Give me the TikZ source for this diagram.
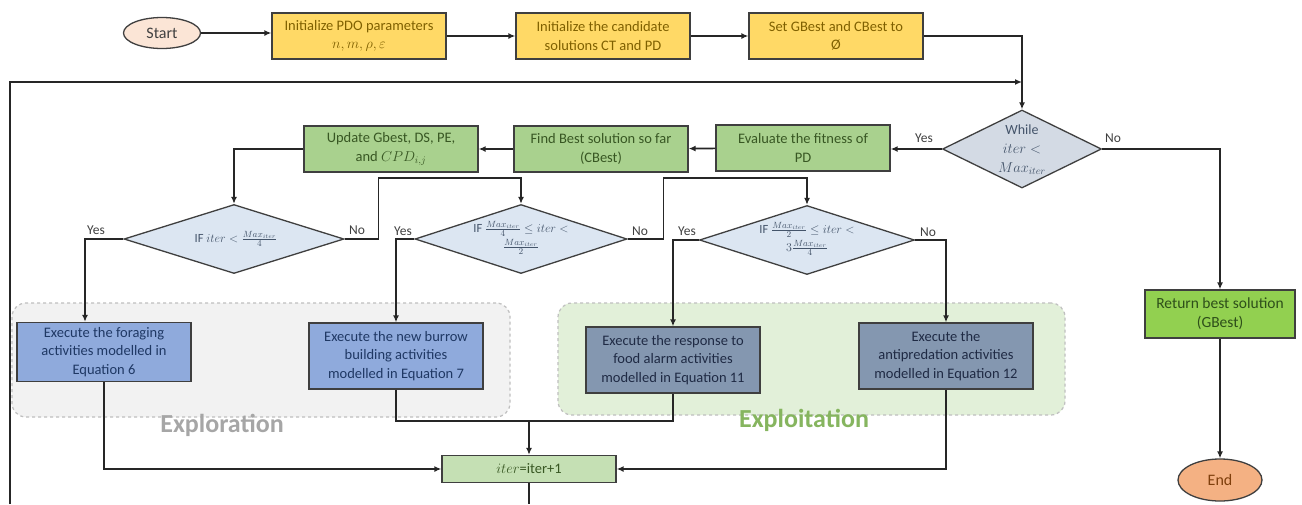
\documentclass[tikz,border=0pt]{standalone}
\usepackage{fontspec}
\setmainfont{Carlito}
\usetikzlibrary{arrows.meta,shapes.geometric}
\definecolor{bordc}{HTML}{3F3F3F}
\definecolor{linec}{HTML}{262626}
\definecolor{yfill}{HTML}{FFD966}
\definecolor{ytext}{HTML}{7F6000}
\definecolor{gfill}{HTML}{A9D18E}
\definecolor{gtext}{HTML}{385723}
\definecolor{ifill}{HTML}{C5E0B4}
\definecolor{wfill}{HTML}{D3DAE4}
\definecolor{dfill}{HTML}{DCE6F2}
\definecolor{dtextc}{HTML}{44546A}
\definecolor{bfill}{HTML}{8FAADC}
\definecolor{btext}{HTML}{1F3864}
\definecolor{sfill}{HTML}{8497B0}
\definecolor{stext}{HTML}{1F2A44}
\definecolor{rfill}{HTML}{92D050}
\definecolor{rtext}{HTML}{2E4F1A}
\definecolor{startfill}{HTML}{FBE5D6}
\definecolor{endfill}{HTML}{F4B183}
\definecolor{endtext}{HTML}{7F3F0C}
\definecolor{explfill}{HTML}{F2F2F2}
\definecolor{exploitfill}{HTML}{E2F0D9}
\definecolor{regb}{HTML}{BFBFBF}
\definecolor{explt}{HTML}{A6A6A6}
\definecolor{exploitt}{HTML}{86B55F}
\definecolor{lblc}{HTML}{404040}
\begin{document}
\begin{tikzpicture}[x=1pt,y=-1pt,
  box/.style={draw=bordc, line width=1.3pt, minimum width=174pt, minimum height=46pt,
    inner sep=2pt, align=center, font=\fontsize{14.5}{18.5}\selectfont},
  ybox/.style={box, fill=yfill, text=ytext},
  gbox/.style={box, fill=gfill, text=gtext},
  bbox/.style={box, fill=bfill, text=btext, minimum height=66pt},
  sbox/.style={box, fill=sfill, text=stext, minimum height=66pt},
  ibox/.style={box, fill=ifill, text=gtext, minimum height=27pt},
  rbox/.style={box, fill=rfill, text=rtext, minimum width=150pt, minimum height=48pt, font=\fontsize{15.5}{19}\selectfont},
  diam/.style={diamond, draw=bordc, line width=1.3pt, inner sep=0pt, fill=dfill},
  dtext/.style={align=center, text=dtextc, inner sep=0pt, font=\fontsize{12.5}{16}\selectfont},
  oval/.style={ellipse, draw=bordc, line width=1.3pt, inner sep=0pt, font=\fontsize{16}{18}\selectfont},
  conn/.style={line width=1.6pt, draw=linec},
  arr/.style={conn, -{Latex[length=7pt,width=6pt]}},
  lbl/.style={font=\fontsize{13.5}{15}\selectfont, text=lblc, inner sep=0pt},
  region/.style={rounded corners=14pt, draw=regb, dashed, line width=1.2pt},
  regtext/.style={font=\fontsize{26}{28}\selectfont\bfseries, inner sep=0pt}
]
\useasboundingbox (0,0) rectangle (1302,504);
\fill[white] (0,0) rectangle (1302,504);

% regions
\node[region, fill=explfill, minimum width=498pt, minimum height=114pt] (explor) at (261,360) {};
\node[region, fill=exploitfill, minimum width=507pt, minimum height=112pt] (exploit) at (811.5,359) {};
\node[regtext, text=explt] (explorl) at (222,425) {Exploration};
\node[regtext, text=exploitt] (exploitl) at (804,420) {Exploitation};

% top row
\node[oval, fill=startfill, text=lblc, minimum width=77pt, minimum height=31pt] (start) at (162,33) {Start};
\node[ybox] (pdo) at (359,36) {Initialize PDO parameters\\$n, m, \rho, \varepsilon$};
\node[ybox] (cand) at (603,36) {Initialize the candidate\\solutions CT and PD};
\node[ybox] (set) at (836,36) {Set GBest and CBest to\\Ø};

% while
\node[diam, fill=wfill, minimum width=159pt, minimum height=78pt] (while) at (1022,149) {};
\node[dtext, font=\fontsize{14}{19}\selectfont] (whilet) at (1022,150) {While\\$iter <$\\$Max_{iter}$};

% middle row
\node[gbox] (eval) at (803,148) {Evaluate the fitness of\\PD};
\node[gbox] (find) at (601,149) {Find Best solution so far\\(CBest)};
\node[gbox] (upd) at (391,149) {Update Gbest, DS, PE,\\and $CPD_{i,j}$};

% if diamonds
\node[diam, minimum width=220pt, minimum height=69pt] (d1) at (234,239) {};
\node[dtext] (d1t) at (236,239) {IF $iter < \frac{Max_{iter}}{4}$};
\node[diam, minimum width=212pt, minimum height=69pt] (d2) at (521,239) {};
\node[dtext] (d2t) at (521,238) {IF $\frac{Max_{iter}}{4} \le iter <$\\[2pt]$\frac{Max_{iter}}{2}$};
\node[diam, minimum width=215pt, minimum height=69pt] (d3) at (807,240) {};
\node[dtext] (d3t) at (807,239) {IF $\frac{Max_{iter}}{2} \le iter <$\\[2pt]$3\frac{Max_{iter}}{4}$};

% activity boxes
\node[bbox, minimum height=59pt] (b1) at (104,352) {Execute the foraging\\activities modelled in\\Equation 6};
\node[bbox] (b2) at (396,356) {Execute the new burrow\\building activities\\modelled in Equation 7};
\node[sbox] (b3) at (673,360) {Execute the response to\\food alarm activities\\modelled in Equation 11};
\node[sbox] (b4) at (946,356) {Execute the\\antipredation activities\\modelled in Equation 12};

\node[ibox] (iter) at (529,469) {$iter$=iter+1};
\node[rbox] (ret) at (1220,314) {Return best solution\\(GBest)};
\node[oval, fill=endfill, text=endtext, minimum width=84pt, minimum height=42pt] (end) at (1220,480) {End};

% coordinates
\coordinate (loopb) at (10,504);
\coordinate (loopj) at (1022,82);
\coordinate (iterb) at (529,504);
\coordinate (jn) at (529,421);

% connectors
\draw[arr] (start.east) -- (start.east -| pdo.west);
\draw[arr] (pdo) -- (cand);
\draw[arr] (cand) -- (set);
\draw[arr] (set.east) -| (while.north);
\draw[arr] (loopb) |- (loopj);
\draw[arr] (while.west) -- (while.west -| eval.east);
\draw[arr] (eval) -- (find);
\draw[arr] (find) -- (upd);
\draw[arr] (upd.west) -| (d1.north);
\draw[arr] (d1.east) -- ++(34,0) -- ++(0,-61) -| (d2.north);
\draw[arr] (d2.east) -- ++(36,0) -- ++(0,-61) -| (d3.north);
\draw[arr] (d1.west) -| ([xshift=-19pt]b1.north);
\draw[arr] (d2.west) -| (b2.north);
\draw[arr] (d3.west) -| (b3.north);
\draw[arr] (d3.east) -| (b4.north);
\draw[arr] (while.east) -| (ret.north);
\draw[arr] (ret) -- (end);
\draw[arr] (b1.south) |- (iter.west);
\draw[arr] (b4.south) |- (iter.east);
\draw[conn] (b2.south) |- (jn) -| (b3.south);
\draw[arr] (jn) -- (iter.north);
\draw[conn] (iter.south) -- (iterb);

% labels
\node[lbl] (ywhile) at (924,138) {Yes};
\node[lbl] (nwhile) at (1113,138) {No};
\node[lbl] (y1) at (96,230) {Yes};
\node[lbl] (n1) at (357,230) {No};
\node[lbl] (y2) at (403,231) {Yes};
\node[lbl] (n2) at (640,231) {No};
\node[lbl] (y3) at (687,231) {Yes};
\node[lbl] (n3) at (928,232) {No};
\end{tikzpicture}
\end{document}
